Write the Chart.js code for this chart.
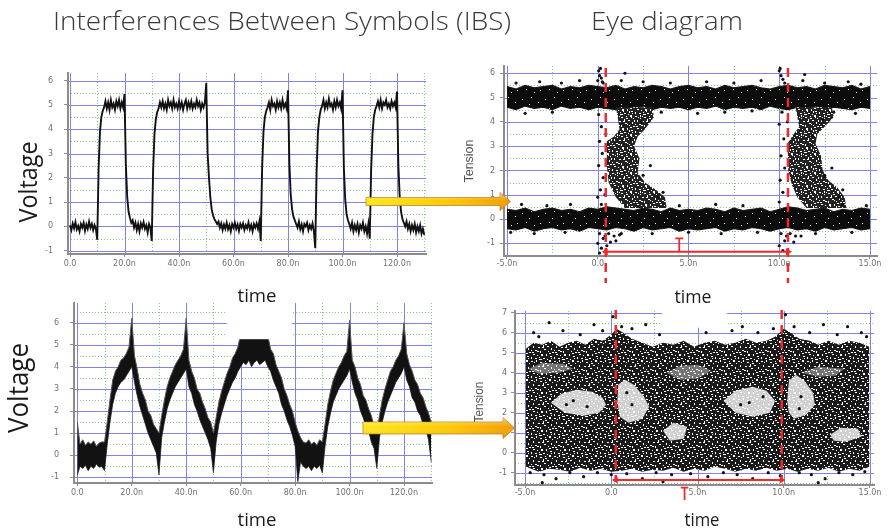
<!DOCTYPE html>
<html><head><meta charset="utf-8">
<script src="https://cdn.jsdelivr.net/npm/chart.js@4.4.1/dist/chart.umd.min.js"></script>
<style>
html,body{margin:0;padding:0;background:#fff;}
#wrap{position:relative;width:888px;height:531px;overflow:hidden;background:#fff;}
canvas{position:absolute;}
#ov{position:absolute;left:0;top:0;}
</style></head><body>
<div id="wrap">
<canvas id="tl" width="402" height="211" style="left:38px;top:65px"></canvas>
<canvas id="tr" width="415" height="228" style="left:474px;top:58px"></canvas>
<canvas id="bl" width="402" height="210" style="left:44px;top:295px"></canvas>
<canvas id="br" width="403" height="212" style="left:485px;top:303px"></canvas>
<svg id="ov" width="888" height="531" xmlns="http://www.w3.org/2000/svg" style="font-family:'Open Sans',sans-serif">
<defs>
 <linearGradient id="ag" x1="0" y1="0" x2="1" y2="0"><stop offset="0" stop-color="#ffe81a"/><stop offset="0.6" stop-color="#ffc600"/><stop offset="1" stop-color="#f29a00"/></linearGradient>
 <linearGradient id="ash" x1="0" y1="0" x2="0" y2="1"><stop offset="0" stop-color="#ffffff" stop-opacity="0.5"/><stop offset="0.45" stop-color="#ffffff" stop-opacity="0"/><stop offset="1" stop-color="#a05a00" stop-opacity="0.3"/></linearGradient>
</defs>
<text x="53" y="30" font-size="25" font-weight="300" fill="#3a3a3a" textLength="458" lengthAdjust="spacingAndGlyphs">Interferences Between Symbols (IBS)</text>
<text x="591" y="30" font-size="25" font-weight="300" fill="#3a3a3a" textLength="152" lengthAdjust="spacingAndGlyphs">Eye diagram</text>
<text transform="translate(37,182) rotate(-90)" text-anchor="middle" font-size="26" fill="#1a1a1a" textLength="81" lengthAdjust="spacingAndGlyphs">Voltage</text>
<text transform="translate(28,388) rotate(-90)" text-anchor="middle" font-size="28" fill="#1a1a1a" textLength="90" lengthAdjust="spacingAndGlyphs">Voltage</text>
<text x="257" y="302" text-anchor="middle" font-size="19" fill="#1a1a1a" textLength="39" lengthAdjust="spacingAndGlyphs">time</text>
<text x="693" y="303" text-anchor="middle" font-size="19" fill="#1a1a1a" textLength="37" lengthAdjust="spacingAndGlyphs">time</text>
<text x="257" y="526" text-anchor="middle" font-size="19" fill="#1a1a1a" textLength="39" lengthAdjust="spacingAndGlyphs">time</text>
<text x="702" y="526" text-anchor="middle" font-size="19" fill="#1a1a1a" textLength="35" lengthAdjust="spacingAndGlyphs">time</text>
<text transform="translate(473,161) rotate(-90)" text-anchor="middle" font-size="12" fill="#555" font-family="'Liberation Sans',Arial,sans-serif" textLength="43" lengthAdjust="spacingAndGlyphs">Tension</text>
<text transform="translate(483,402) rotate(-90)" text-anchor="middle" font-size="12" fill="#555" font-family="'Liberation Sans',Arial,sans-serif" textLength="41" lengthAdjust="spacingAndGlyphs">Tension</text>
<path d="M366,197.5 H500 V192.5 L510.5,201.5 L500,210.5 V205.5 H366 Z" fill="url(#ag)" stroke="#b07a10" stroke-width="0.7"/>
<path d="M366,197.5 H500 V192.5 L510.5,201.5 L500,210.5 V205.5 H366 Z" fill="url(#ash)"/>
<path d="M363,422 H503 V417.5 L514.5,428 L503,438.5 V434 H363 Z" fill="url(#ag)" stroke="#b07a10" stroke-width="0.7"/>
<path d="M363,422 H503 V417.5 L514.5,428 L503,438.5 V434 H363 Z" fill="url(#ash)"/>
</svg>
</div>
<script>
// ---------------- DATA ----------------
// Top-left: bit stream 0 1 0 1 1 0 0 1 0 1 0 1 0, sampled every 0.5 ns (t = 0..130 ns)
const tlV = [
 0.05,-0.15,0.12,-0.08,0.18,-0.12,0.02,-0.2,0.1,-0.05,0.15,-0.18,0.08,-0.1,0.2,-0.06,0.1,-0.15,0.05,-0.1,
 -0.55,2.4,3.9,4.5,4.75,4.9,5.15,4.85,5.1,4.8,5.2,4.9,5.05,4.8,5.15,4.95,5.2,4.85,5.1,4.9,
 5.45,2.5,1.2,0.6,0.35,0.15,0.25,-0.05,0.15,-0.15,0.1,-0.2,0.12,-0.05,0.18,-0.1,0.05,-0.25,0.1,-0.05,
 -0.6,2.3,3.8,4.4,4.7,4.85,5.1,4.9,5.15,4.85,5.05,4.8,5.2,4.95,5.1,4.85,5.2,4.9,5.05,4.85,
 5.15,4.9,5.1,4.8,5.05,5.2,4.85,5.1,4.9,5.15,4.85,5.05,4.9,5.2,4.95,5.1,4.8,5.05,4.9,5.1,
 5.9,3.0,2.0,1.2,0.7,0.45,0.3,0.2,0.1,0.2,-0.05,0.12,-0.15,0.08,-0.1,0.15,-0.12,0.05,-0.2,0.1,
 -0.05,0.15,-0.1,0.08,-0.18,0.1,-0.05,0.12,-0.15,0.05,-0.08,0.16,-0.12,0.06,-0.2,0.1,-0.05,0.12,-0.1,0.2,
 -0.6,2.4,3.9,4.5,4.75,4.9,5.1,4.8,5.2,4.95,5.05,4.8,5.15,4.9,5.1,4.85,5.2,4.9,5.05,4.85,
 5.6,2.6,1.3,0.7,0.4,0.25,0.1,-0.05,0.2,-0.12,0.08,-0.2,0.1,0.0,0.15,-0.15,0.05,-0.1,0.12,-0.2,
 -0.9,2.3,3.9,4.5,4.8,4.95,5.2,4.85,5.1,4.9,5.25,4.95,5.05,4.8,5.15,4.9,5.2,4.95,5.1,4.85,
 5.6,2.4,1.1,0.5,0.25,0.1,-0.1,0.15,-0.2,0.05,-0.15,0.1,-0.25,0.05,-0.1,0.15,-0.2,0.0,-0.3,0.1,
 -0.5,2.3,3.8,4.5,4.8,4.95,5.15,4.9,5.2,4.85,5.1,5.0,5.2,4.9,5.05,4.85,5.15,4.95,5.1,4.9,
 5.55,2.5,1.2,0.6,0.3,0.15,0.0,0.2,-0.1,0.1,-0.2,0.05,-0.15,0.1,-0.25,0.0,-0.2,0.05,-0.3,-0.1,-0.35];
// Bottom-left: band-limited signal, upper / lower envelope every 1 ns
const blHi = [
 1.5,0.5,0.7,0.45,0.6,0.5,0.65,0.4,0.55,0.6,
 0.6,1.5,2.5,3.4,3.8,4.0,4.3,4.4,4.6,4.9,
 6.2,4.5,3.9,3.2,2.8,2.5,2.0,1.8,1.4,1.2,
 1.0,1.8,2.5,3.1,3.5,3.8,4.1,4.3,4.5,4.8,
 6.2,4.3,3.8,3.5,3.0,2.8,2.4,2.1,1.7,1.5,
 1.0,1.7,2.4,2.9,3.3,3.7,4.0,4.4,4.6,4.9,
 5.5,5.5,5.5,5.5,5.5,5.5,5.5,5.5,5.5,5.5,
 5.4,4.8,4.6,4.1,3.8,3.5,3.0,2.7,2.3,2.0,
 1.5,1.1,0.8,0.6,0.55,0.7,0.5,0.6,0.45,0.7,
 0.6,1.4,2.3,2.9,3.4,3.7,4.0,4.2,4.5,4.7,
 6.1,4.3,4.0,3.5,3.2,2.7,2.5,2.1,1.8,1.3,
 1.0,1.8,2.5,3.0,3.4,3.8,4.0,4.3,4.5,4.8,
 6.0,4.6,4.1,3.8,3.4,3.2,2.8,2.6,2.2,1.9,1.5];
const blLo = [
 -0.9,-0.5,-0.6,-0.45,-0.7,-0.5,-0.6,-0.4,-0.55,-0.5,
 -0.7,0.5,1.5,2.3,2.8,3.1,3.3,3.4,3.6,3.8,
 4.0,3.3,2.7,2.2,1.8,1.4,1.0,0.7,0.4,0.1,
 -0.9,0.8,1.5,2.1,2.5,2.8,3.1,3.3,3.5,3.7,
 3.9,3.1,2.8,2.3,2.0,1.6,1.3,1.0,0.7,0.3,
 -0.8,0.6,1.4,1.9,2.3,2.7,3.0,3.3,3.5,3.8,
 4.0,4.2,4.1,4.3,4.0,4.2,4.3,4.1,4.2,4.3,
 4.0,3.8,3.4,3.1,2.8,2.3,2.0,1.6,1.3,0.9,
 0.4,-1.2,-0.3,-0.5,-0.6,-0.5,-0.7,-0.5,-0.6,-0.45,
 -0.8,0.4,1.3,1.9,2.4,2.7,3.0,3.2,3.4,3.6,
 3.9,3.3,2.8,2.5,2.0,1.7,1.3,1.1,0.6,0.3,
 -0.6,0.8,1.5,2.0,2.4,2.7,3.0,3.3,3.5,3.7,
 4.0,3.4,3.1,2.6,2.4,2.0,1.8,1.4,1.2,0.7,-0.3];
// Top-right eye: "1" and "0" bands, edges every 0.5 ns from -5 to 15 ns
const trTopHi = [5.45,5.35,5.5,5.4,5.45,5.5,5.35,5.45,5.4,5.5, 5.45,5.4,5.5,5.35,5.45,5.4,5.5,5.45,5.35,5.45, 5.5,5.4,5.45,5.35,5.5,5.4,5.45,5.5,5.4,5.35, 5.45,5.5,5.4,5.45,5.35,5.5,5.45,5.4,5.5,5.35, 5.45];
const trTopLo = [4.6,4.5,4.65,4.55,4.6,4.5,4.65,4.55,4.6,4.5, 4.6,4.55,4.5,4.6,4.55,4.65,4.5,4.6,4.55,4.6, 4.5,4.6,4.55,4.65,4.5,4.6,4.55,4.6,4.5,4.65, 4.55,4.5,4.6,4.55,4.65,4.5,4.6,4.55,4.5,4.6, 4.55];
const trBotHi = [0.4,0.35,0.45,0.3,0.4,0.45,0.35,0.4,0.3,0.45, 0.4,0.5,0.45,0.4,0.35,0.45,0.4,0.3,0.45,0.35, 0.4,0.35,0.45,0.4,0.3,0.45,0.35,0.4,0.45,0.3, 0.4,0.5,0.45,0.35,0.4,0.45,0.3,0.4,0.35,0.45, 0.4];
const trBotLo = [-0.4,-0.45,-0.35,-0.5,-0.4,-0.35,-0.45,-0.4,-0.5,-0.35, -0.4,-0.45,-0.35,-0.4,-0.5,-0.35,-0.45,-0.4,-0.35,-0.5, -0.4,-0.45,-0.4,-0.35,-0.5,-0.4,-0.45,-0.35,-0.4,-0.5, -0.4,-0.35,-0.45,-0.4,-0.5,-0.35,-0.45,-0.4,-0.35,-0.45, -0.4];
// Top-right eye: falling-edge clouds (t ns, V)
const trCloud1 = [[1.0,4.6],[3.0,4.6],[3.1,4.2],[2.6,3.7],[2.2,3.4],[2.0,3.0],[2.3,2.5],[2.2,1.9],[2.6,1.5],[3.2,1.2],[3.7,0.9],[3.8,0.45],[1.5,0.45],[1.0,0.9],[0.6,1.5],[0.5,2.2],[0.5,3.2],[0.9,3.4],[1.2,3.7],[1.1,4.2],[1.0,4.6]];
const trCloud2 = [[10.9,4.6],[12.9,4.6],[13.0,4.2],[12.5,3.8],[12.1,3.5],[12.0,3.1],[12.3,2.6],[12.4,2.0],[12.7,1.6],[13.2,1.3],[13.6,0.9],[13.7,0.45],[11.5,0.45],[11.0,0.9],[10.7,1.4],[10.5,2.0],[10.45,3.1],[10.8,3.5],[11.1,3.8],[11.0,4.2],[10.9,4.6]];
// Top-right eye: individual samples outside the dense areas
const trDots = [[0.05,6.1],[0.1,5.9],[0.0,5.7],[0.2,5.8],[0.15,6.2],[0.3,5.6],[0.05,4.3],[0.2,3.8],[0.1,3.2],[0.25,2.7],[0.05,2.2],[0.3,1.7],[0.15,1.2],[0.0,0.9],[0.2,0.6],[0.1,-0.6],[0.3,-0.8],[0.0,-1.0],[0.2,-1.2],[0.1,-1.4],[0.4,-0.7],[0.35,4.6],[0.4,1.0],[0.45,3.5],[0.25,5.65],
 [0.6,-0.6],[0.9,-0.7],[1.2,-0.65],[0.7,-0.95],[1.0,-0.9],[0.5,-1.1],[1.3,-0.6],[1.5,6.0],[1.3,5.7],
 [10.0,6.1],[10.1,5.9],[10.2,5.75],[10.05,6.2],[10.3,5.6],[10.15,4.4],[10.0,3.9],[10.25,3.3],[10.1,2.6],[10.3,2.1],[10.05,1.6],[10.2,1.1],[10.0,0.7],[10.1,-0.6],[10.3,-0.9],[10.0,-1.1],[10.2,-1.3],[10.4,-0.7],[10.45,4.0],
 [10.6,-0.6],[10.9,-0.7],[11.2,-0.7],[10.8,-0.95],[11.4,5.95],[11.3,5.7],
 [-4.5,5.6],[-3.2,5.65],[-2.0,5.6],[-1.0,5.7],[2.5,5.65],[4.0,5.6],[6.0,5.65],[7.5,5.6],[9.0,5.7],[12.5,5.6],[13.8,5.65],[14.5,5.55],[-4.0,4.35],[-2.5,4.4],[3.5,4.4],[5.5,4.35],[7.0,4.4],[8.5,4.45],[13.0,4.4],[14.2,4.35],
 [-4.2,0.6],[-2.8,0.55],[-1.5,0.6],[4.5,0.55],[6.5,0.6],[8.0,0.55],[13.5,0.6],[14.8,0.55],[-4.8,-0.55],[-3.5,-0.6],[-1.8,-0.55],[3.0,-0.6],[5.0,-0.55],[6.8,-0.6],[8.8,-0.55],[12.0,-0.6],[14.0,-0.55],
 [2.5,1.8],[2.9,2.2],[3.3,0.9],[3.6,1.1],[1.8,3.3],[2.4,4.0],[11.8,3.4],[12.4,4.1],[12.5,1.8],[12.9,2.1],[13.3,0.9],[13.5,1.2]];
// Bottom-right eye: overall sample cloud outline (t ns, V)
const brCloud = [[-4.95,5.2],[-4.5,5.5],[-4,5.4],[-3.5,5.6],[-3,5.3],[-2.5,5.5],[-2,5.6],[-1.5,5.4],[-1,5.7],[-0.5,5.6],[0,5.9],[0.3,6.2],[0.7,6.0],[1.2,5.7],[1.8,5.5],[2.4,5.3],[3,5.5],[3.6,5.4],[4.2,5.6],[4.8,5.3],[5.4,5.5],[6,5.6],[6.6,5.4],[7.2,5.5],[7.8,5.7],[8.4,5.5],[9,5.6],[9.5,5.8],[10,6.2],[10.4,6.0],[10.9,5.7],[11.5,5.6],[12,5.4],[12.6,5.6],[13.2,5.4],[13.8,5.6],[14.4,5.5],[14.95,5.3],
 [14.95,-0.7],[14.4,-0.9],[13.8,-0.8],[13.2,-0.95],[12.6,-0.75],[12,-0.9],[11.4,-0.8],[10.8,-0.95],[10.2,-0.8],[9.6,-0.9],[9,-0.75],[8.4,-0.9],[7.8,-0.8],[7.2,-0.95],[6.6,-0.8],[6,-0.7],[5.4,-0.9],[4.8,-0.8],[4.2,-0.95],[3.6,-0.75],[3,-0.9],[2.4,-0.85],[1.8,-0.95],[1.2,-0.8],[0.6,-0.9],[0,-0.95],[-0.6,-0.8],[-1.2,-0.9],[-1.8,-0.75],[-2.4,-0.95],[-3,-0.85],[-3.6,-0.8],[-4.2,-0.95],[-4.95,-0.7]];
// Bottom-right eye: open (empty) areas
const brHoleD = [[-3.5,2.5],[-2.9,2.95],[-2.0,3.15],[-1.1,3.05],[-0.5,2.75],[-0.3,2.4],[-0.7,2.0],[-1.6,1.85],[-2.7,2.0]];
const brHoleA = [[0.35,2.5],[0.4,3.4],[0.8,3.65],[1.3,3.4],[1.9,2.8],[2.2,2.3],[1.8,1.7],[1.0,1.5],[0.5,1.8]];
const brHoleB = [[6.5,2.6],[7.2,3.1],[8.2,3.3],[9.0,3.1],[9.5,2.6],[9.2,2.0],[8.2,1.8],[7.2,2.0]];
const brHoleC = [[10.2,2.6],[10.3,3.6],[10.7,3.9],[11.2,3.6],[11.7,3.0],[11.8,2.4],[11.3,1.9],[10.6,1.7],[10.3,2.0]];
const brHoleE = [[12.7,0.9],[13.3,1.25],[14.3,1.2],[14.5,0.8],[13.6,0.55],[12.9,0.6]];
const brHoleF = [[3.0,1.1],[3.6,1.5],[4.4,1.3],[4.2,0.7],[3.4,0.6]];
const brGapL = [[-4.8,4.2],[-4,4.5],[-2.8,4.45],[-2.2,4.2],[-3,4.0],[-4.2,3.95]];
const brGapG = [[3.2,4.0],[4,4.35],[5,4.4],[5.8,4.1],[5,3.7],[4,3.65]];
const brGapR = [[11,4.0],[12,4.3],[13.5,4.2],[13,3.85],[12,3.8]];
const brDots = [[-4.5,6.0],[-4.2,5.8],[-3.6,6.5],[-2.8,6.1],[-1.8,5.9],[-1.0,6.4],[-0.5,6.1],[0.1,6.8],[0.6,6.3],[1.2,6.2],[2.0,6.4],[2.8,5.9],[5.5,6.0],[7.0,6.1],[7.6,6.3],[8.5,6.0],[9.4,6.2],[10.1,6.9],[10.6,6.3],[11.5,6.0],[12.3,6.4],[13.1,5.9],[13.7,6.3],[14.5,6.0],[14.8,5.8],
 [-4.7,-1.0],[-3.9,-1.1],[-3.2,-1.3],[-2.4,-1.0],[-1.6,-1.2],[-0.8,-1.0],[0.0,-1.1],[0.9,-1.05],[1.8,-1.3],[2.6,-1.0],[3.5,-1.1],[4.6,-1.05],[5.6,-1.2],[6.5,-1.0],[7.3,-1.1],[8.2,-1.3],[9.1,-1.0],[9.8,-1.15],[10.9,-1.0],[11.6,-1.1],[12.4,-1.3],[13.2,-1.0],[14.0,-1.1],[14.7,-0.95],[-4.0,-1.5],[3.0,-1.45],[12.0,-1.5],
 [-2.2,2.6],[1.2,2.4],[8.0,2.5],[11.0,2.8],[-1.4,2.3],[0.9,3.0],[7.5,2.4],[8.8,2.8],[10.9,2.2],[-2.6,2.4]];
// Annotation marks (data units)
const trEdges = [0.44, 10.48], trArrowV = -1.35, trMarkT = 4.49;
const brEdges = [0.26, 9.88], brArrowV = -1.37, brMarkT = 4.25;
// Axis ticks
const tlXTicks = [0,20,40,60,80,100,120], tlXLabels = ['0.0','20.0n','40.0n','60.0n','80.0n','100.0n','120.0n'];
const tlYTicks = [-1,0,1,2,3,4,5,6], tlYLabels = ['-1','0','1','2','3','4','5','6'];
const eyeXTicks = [-5,0,5,10,15], eyeXLabels = ['-5.0n','0.0','5.0n','10.0n','15.0n'];
const trYTicks = [-1,0,1,2,3,4,5,6], trYLabels = ['-1','0','1','2','3','4','5','6'];
const brYTicks = [-1,0,1,2,3,4,5,6,7], brYLabels = ['-1','0','1','2','3','4','5','6','7'];

// ---------------- RENDER ----------------
Chart.defaults.font.family = "'DejaVu Sans', Arial, sans-serif";
Chart.defaults.font.size = 8;
const BLUE='#8282e6', GREEN='#88c888', AXIS='#8c8c8c', RED='#ee2a2a';
const pts = (arr, x0, dx) => arr.map((v,i)=>({x:x0+i*dx, y:v}));
const xy = arr => arr.map(p=>({x:p[0], y:p[1]}));
const range = (a,b,s) => { const r=[]; for(let v=a; v<=b+1e-9; v+=s) r.push(+v.toFixed(3)); return r; };

function gridPlugin(g){ return { id:'bgGrid', beforeDatasetsDraw(chart){
  const {ctx, chartArea:a, scales:{x,y}} = chart;
  ctx.save(); ctx.beginPath(); ctx.rect(a.left+1, a.top, a.right-a.left-1, a.bottom-a.top-1); ctx.clip();
  ctx.lineWidth=1;
  const V=(v,c,d)=>{const p=Math.round(x.getPixelForValue(v))+0.5; ctx.strokeStyle=c; ctx.setLineDash(d); ctx.beginPath(); ctx.moveTo(p,a.top); ctx.lineTo(p,a.bottom); ctx.stroke();};
  const H=(v,c,d)=>{const p=Math.round(y.getPixelForValue(v))+0.5; ctx.strokeStyle=c; ctx.setLineDash(d); ctx.beginPath(); ctx.moveTo(a.left,p); ctx.lineTo(a.right,p); ctx.stroke();};
  g.xMinor.forEach(v=>V(v,GREEN,[1,2])); g.yMinor.forEach(v=>H(v,GREEN,[1,2]));
  g.xMajor.forEach(v=>V(v,BLUE,[])); g.yMajor.forEach(v=>H(v,BLUE,[]));
  ctx.restore(); } }; }
function patchPlugin(p){ return { id:'patch', afterDatasetsDraw(chart){
  if(!p) return; const {ctx, scales:{x,y}} = chart;
  const x0=x.getPixelForValue(p.x0), x1=x.getPixelForValue(p.x1), y0=y.getPixelForValue(p.y0), y1=y.getPixelForValue(p.y1);
  ctx.save(); ctx.fillStyle='#fff'; ctx.fillRect(x0, y1, x1-x0, y0-y1); ctx.restore(); } }; }
// irregular speckle textures (style only)
const SPK_DENSE = [[2,3,1,1],[11,1,1,1],[18,6,1,1],[6,12,1,1],[14,15,1,1],[20,13,1,1],[9,8,1,1]];
const SPK_MID = [[0,1,2,1],[5,0,1,2],[9,2,2,1],[14,1,1,1],[18,0,2,2],[21,3,1,1],[2,5,1,2],[7,6,2,1],[12,4,1,2],[16,5,2,1],[20,7,1,2],[0,9,1,1],[4,9,2,1],[9,10,1,2],[13,8,2,1],[17,10,1,1],[21,11,2,1],[2,13,2,1],[6,14,1,1],[10,13,2,2],[15,13,1,2],[19,15,2,1],[0,16,1,2],[4,17,2,1],[8,16,1,1],[12,17,2,1],[16,18,1,1],[20,17,1,1]];
const SPK_EXTRA = [[3,2,1,1],[11,6,2,1],[6,10,2,1],[18,12,2,1],[14,3,2,1],[1,11,2,1],[8,18,3,1],[17,15,1,2],[22,5,1,2],[11,15,1,1],[5,3,1,1],[19,2,1,1],[7,1,1,1],[15,9,1,1]];
function speckle(id, dots, base){
  const t=document.createElement('canvas'); t.width=23; t.height=19; const g=t.getContext('2d');
  g.fillStyle=base; g.fillRect(0,0,23,19); g.fillStyle='#fff'; dots.forEach(d=>g.fillRect(d[0],d[1],d[2],d[3]));
  return document.getElementById(id).getContext('2d').createPattern(t,'repeat');
}
function build(id, c){
  c.datasets.forEach((d,i)=>{ d.order = 100-i; if(d.pointRadius===undefined) d.pointRadius=0; });
  return new Chart(document.getElementById(id), {
    type:'line',
    data:{datasets:c.datasets},
    options:{
      responsive:false, animation:false, devicePixelRatio:1, events:[],
      layout:{padding:{left:0, top:8, right:c.pr, bottom:c.pb||0}},
      plugins:{legend:{display:false}, tooltip:{enabled:false}},
      elements:{line:{tension:0}},
      scales:{
        x:{type:'linear', min:c.xmin, max:c.xmax,
          afterBuildTicks:s=>{s.ticks=c.xTicks.map(v=>({value:v}));},
          afterFit:s=>{s.height=22; s.paddingLeft=0; s.paddingRight=0;},
          ticks:{autoSkip:false, maxRotation:0, minRotation:0, padding:c.xPad, color:'#707070', callback:(v,i)=>c.xLabels[i]},
          grid:{display:true, drawOnChartArea:false, drawTicks:true, tickLength:3, tickColor:AXIS},
          border:{display:true, color:AXIS, width:2}},
        y:{type:'linear', min:c.ymin, max:c.ymax,
          afterBuildTicks:s=>{s.ticks=c.yTicks.map(v=>({value:v}));},
          afterFit:s=>{s.width=30; s.paddingTop=0; s.paddingBottom=0;},
          ticks:{autoSkip:false, padding:c.yPad, color:'#707070', callback:(v,i)=>c.yLabels[i]},
          grid:{display:true, drawOnChartArea:false, drawTicks:true, tickLength:4, tickColor:AXIS},
          border:{display:true, color:AXIS, width:2}}
      }
    },
    plugins:[gridPlugin(c.grid), patchPlugin(c.patch)]
  });
}
const dashed = (t, v0, v1) => ({data:[{x:t,y:v0},{x:t,y:v1}], borderColor:RED, borderWidth:2.5, borderDash:[9,6], fill:false, clip:false});
const arrow = (t0, t1, v) => ({data:[{x:t0,y:v},{x:t1,y:v}], borderColor:RED, borderWidth:2, fill:false, clip:false,
  pointRadius:4, pointStyle:'triangle', pointRotation:[-90,90], pointBackgroundColor:RED, pointBorderWidth:0});
const markT = (t, vTop, vBot, half) => ({data:[{x:t-half,y:vTop},{x:t+half,y:vTop},{x:t,y:vTop},{x:t,y:vBot}], borderColor:RED, borderWidth:1.8, fill:false, clip:false});
const dots = (arr) => ({data:xy(arr), showLine:false, pointRadius:1.6, pointBackgroundColor:'#111', pointBorderWidth:0, fill:false});
const shape = (arr, bg) => ({data:xy(arr), borderWidth:0, fill:'shape', backgroundColor:bg});

// Top-left
build('tl', {pr:14, xPad:2, yPad:11, xmin:-0.734, xmax:130.64, ymin:-1.136, ymax:6.313,
  xTicks:tlXTicks, xLabels:tlXLabels, yTicks:tlYTicks, yLabels:tlYLabels,
  grid:{xMajor:range(0,120,20), xMinor:range(10,130,20), yMajor:range(-1,6,1), yMinor:range(-0.5,6.5,1)},
  datasets:[{data:pts(tlV,0,0.5), borderColor:'#111', borderWidth:1.9, fill:false}]});

// Bottom-left
build('bl', {pr:14, xPad:2, yPad:11, xmin:-1.212, xmax:130.28, ymin:-1.258, ymax:6.89,
  xTicks:tlXTicks, xLabels:tlXLabels, yTicks:tlYTicks, yLabels:tlYLabels,
  grid:{xMajor:range(0,120,20), xMinor:range(10,130,20), yMajor:range(-1,6,1), yMinor:range(-0.5,6.5,1)},
  patch:{x0:55, x1:78.9, y0:5.25, y1:7.2},
  datasets:[
    {data:pts(blLo,0,1), borderColor:'#555', borderWidth:1, fill:false},
    {data:pts(blHi,0,1), borderColor:'#555', borderWidth:1, fill:'-1', backgroundColor:'#121212'}]});

// Top-right eye
const densePat = speckle('tr', SPK_DENSE, '#0c0c0c');
const cloudPat = speckle('tr', SPK_MID.concat(SPK_EXTRA), '#222');
build('tr', {pr:12, pb:8, xPad:0, yPad:5, xmin:-5.165, xmax:15.386, ymin:-1.523, ymax:6.299,
  xTicks:eyeXTicks, xLabels:eyeXLabels, yTicks:trYTicks, yLabels:trYLabels,
  grid:{xMajor:[-5,0,5,10,15], xMinor:[-2.5,2.5,7.5,12.5], yMajor:range(-1,6,1), yMinor:range(-1.5,5.5,1)},
  datasets:[
    {data:pts(trTopLo,-5,0.5), borderColor:'#1a1a1a', borderWidth:1.2, fill:false},
    {data:pts(trTopHi,-5,0.5), borderColor:'#1a1a1a', borderWidth:1.2, fill:'-1', backgroundColor:densePat},
    {data:pts(trBotLo,-5,0.5), borderColor:'#1a1a1a', borderWidth:1.2, fill:false},
    {data:pts(trBotHi,-5,0.5), borderColor:'#1a1a1a', borderWidth:1.2, fill:'-1', backgroundColor:densePat},
    shape(trCloud1, cloudPat), shape(trCloud2, cloudPat),
    dots(trDots),
    dashed(trEdges[0], 6.22, -2.63), dashed(trEdges[1], 6.22, -2.63),
    arrow(trEdges[0], trEdges[1], trArrowV),
    markT(trMarkT, -0.8, trArrowV, 0.22)]});

// Bottom-right eye
const brPat = speckle('br', SPK_MID.concat(SPK_EXTRA.slice(0,7)), '#1a1a1a');
const holeW = 'rgba(255,255,255,0.8)', gapW = 'rgba(255,255,255,0.4)';
build('br', {pr:14, pb:8, xPad:0, yPad:4, xmin:-5.58, xmax:15.232, ymin:-1.615, ymax:7.085,
  xTicks:eyeXTicks, xLabels:eyeXLabels, yTicks:brYTicks, yLabels:brYLabels,
  grid:{xMajor:[-5,0,5,10,15], xMinor:[-2.5,2.5,7.5,12.5], yMajor:range(-1,7,1), yMinor:range(-1.5,6.5,1)},
  patch:{x0:2.95, x1:6.7, y0:6.25, y1:7.4},
  datasets:[
    shape(brCloud, brPat),
    shape(brGapL, gapW), shape(brGapG, gapW), shape(brGapR, gapW),
    shape(brHoleD, holeW), shape(brHoleA, holeW), shape(brHoleB, holeW), shape(brHoleC, holeW), shape(brHoleE, holeW), shape(brHoleF, holeW),
    dots(brDots),
    dashed(brEdges[0], 7.13, -1.47), dashed(brEdges[1], 7.13, -1.47),
    arrow(brEdges[0], brEdges[1], brArrowV),
    markT(brMarkT, -1.75, -2.37, 0.22)]});
</script>
</body></html>
